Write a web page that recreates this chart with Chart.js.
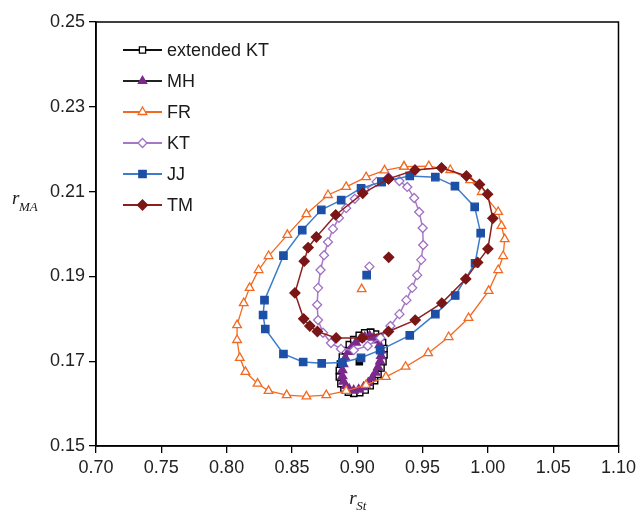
<!DOCTYPE html>
<html>
<head>
<meta charset="utf-8">
<script src="https://cdn.jsdelivr.net/npm/chart.js@4.4.1/dist/chart.umd.min.js"></script>
<style>
  html, body { margin: 0; padding: 0; background: #fff; }
  #wrap { width: 640px; height: 513px; position: relative; }
</style>
</head>
<body>
<div id="wrap"><canvas id="c" width="640" height="513"></canvas></div>
<script>
// ---- Data ----
const seriesNames = ["extended KT", "MH", "FR", "KT", "JJ", "TM"];

const xTicks = [0.70, 0.75, 0.80, 0.85, 0.90, 0.95, 1.00, 1.05, 1.10];
const yTicks = [0.15, 0.17, 0.19, 0.21, 0.23, 0.25];

// extended KT confidence ellipse
const extKtX = [0.9102, 0.9140, 0.9171, 0.9194, 0.9205, 0.9205, 0.9197, 0.9182, 0.9159, 0.9133, 0.9099, 0.9061, 0.9019,
                0.8973, 0.8932, 0.8898, 0.8875, 0.8863, 0.8863, 0.8871, 0.8886, 0.8909, 0.8939, 0.8973, 0.9015, 0.9057];
const extKtY = [0.1768, 0.1764, 0.1756, 0.1744, 0.1730, 0.1715, 0.1699, 0.1684, 0.1669, 0.1654, 0.1642, 0.1632, 0.1626,
                0.1624, 0.1627, 0.1636, 0.1647, 0.1663, 0.1678, 0.1693, 0.1710, 0.1725, 0.1739, 0.1751, 0.1761, 0.1767];
const extKtCenter = [0.9016, 0.1699];

// MH
const mhX = [0.9095, 0.9125, 0.9152, 0.9171, 0.9182, 0.9182, 0.9175, 0.9159, 0.9140, 0.9114, 0.9084, 0.9049, 0.9011,
             0.8973, 0.8939, 0.8913, 0.8894, 0.8886, 0.8886, 0.8894, 0.8909, 0.8932, 0.8958, 0.8989, 0.9023, 0.9057];
const mhY = [0.1759, 0.1756, 0.1749, 0.1738, 0.1726, 0.1713, 0.1700, 0.1686, 0.1673, 0.1660, 0.1649, 0.1639, 0.1633,
             0.1631, 0.1634, 0.1642, 0.1652, 0.1665, 0.1679, 0.1693, 0.1708, 0.1722, 0.1733, 0.1744, 0.1752, 0.1757];

// FR
const frX = [0.9358, 0.9548, 0.9712, 0.9864, 0.9953, 1.0079, 1.0104, 1.0129, 1.0117, 1.0079, 1.0006, 0.9852, 0.9700,
             0.9543, 0.9370, 0.9219, 0.9067, 0.8915, 0.8763, 0.8611, 0.8460, 0.8321, 0.8237, 0.8144, 0.8101, 0.8080,
             0.8080, 0.8131, 0.8176, 0.8245, 0.8321, 0.8465, 0.8611, 0.8776, 0.8915, 0.9068, 0.9209];
const frY = [0.2159, 0.2160, 0.2151, 0.2127, 0.2099, 0.2052, 0.2019, 0.1988, 0.1948, 0.1915, 0.1866, 0.1802, 0.1757,
             0.1719, 0.1687, 0.1663, 0.1644, 0.1630, 0.1620, 0.1617, 0.1620, 0.1630, 0.1647, 0.1675, 0.1708, 0.1750,
             0.1785, 0.1837, 0.1873, 0.1915, 0.1948, 0.1998, 0.2047, 0.2092, 0.2111, 0.2134, 0.2150];
const frCenter = [0.9034, 0.1870];

// KT
const ktX = [0.9239, 0.9323, 0.9383, 0.9436, 0.9474, 0.9501, 0.9505, 0.9490, 0.9459, 0.9421, 0.9376, 0.9323, 0.9254,
             0.9178, 0.9080, 0.8973, 0.8875, 0.8799, 0.8738, 0.8700, 0.8693, 0.8700, 0.8719, 0.8746, 0.8776, 0.8814,
             0.8860, 0.8915, 0.8981, 0.9057, 0.9148];
const ktY = [0.2133, 0.2125, 0.2111, 0.2085, 0.2052, 0.2014, 0.1974, 0.1939, 0.1903, 0.1873, 0.1844, 0.1811, 0.1783,
             0.1755, 0.1736, 0.1726, 0.1729, 0.1743, 0.1767, 0.1797, 0.1833, 0.1873, 0.1915, 0.1950, 0.1981, 0.2012,
             0.2038, 0.2061, 0.2083, 0.2104, 0.2123];
const ktCenter = [0.9093, 0.1923];

// JJ
const jjX = [0.9186, 0.9402, 0.9598, 0.9748, 0.9899, 0.9945, 0.9902, 0.9750, 0.9598, 0.9402, 0.9175, 0.9029, 0.8886,
             0.8728, 0.8586, 0.8435, 0.8296, 0.8279, 0.8290, 0.8435, 0.8579, 0.8725, 0.8877, 0.9029];
const jjY = [0.2123, 0.2137, 0.2134, 0.2113, 0.2064, 0.2002, 0.1931, 0.1855, 0.1811, 0.1761, 0.1726, 0.1708, 0.1697,
             0.1695, 0.1698, 0.1717, 0.1776, 0.1809, 0.1844, 0.1949, 0.2009, 0.2057, 0.2080, 0.2108];
const jjCenter = [0.9072, 0.1903];

// TM
const tmX = [0.9239, 0.9442, 0.9645, 0.9836, 0.9936, 0.9998, 1.0038, 1.0000, 0.9922, 0.9831, 0.9647, 0.9444, 0.9239,
             0.9038, 0.8839, 0.8695, 0.8637, 0.8590, 0.8523, 0.8594, 0.8624, 0.8687, 0.8835, 0.9042];
const tmY = [0.2130, 0.2151, 0.2156, 0.2137, 0.2117, 0.2094, 0.2037, 0.1965, 0.1933, 0.1894, 0.1837, 0.1797, 0.1770,
             0.1755, 0.1755, 0.1770, 0.1783, 0.1800, 0.1861, 0.1936, 0.1968, 0.1993, 0.2045, 0.2096];
const tmCenter = [0.9241, 0.1945];

// ---- helpers ----
function loop(xs, ys) {
  const pts = xs.map((x, i) => ({ x: x, y: ys[i] }));
  pts.push({ x: xs[0], y: ys[0] });
  return pts;
}

const styles = [
  { name: seriesNames[0], line: '#111111', border: '#000000', fill: '#ffffff', shape: 'rect', r: 4.4, lw: 1.3, pbw: 1.4, order: 6 },
  { name: seriesNames[1], line: '#4a2456', border: '#7B2A8C', fill: '#7B2A8C', shape: 'triangle', r: 4.8, lw: 2.4, pbw: 1.6, order: 5 },
  { name: seriesNames[2], line: '#F26A22', border: '#F26A22', fill: '#ffffff', shape: 'triangle', r: 5, lw: 1.3, pbw: 1.3, order: 4 },
  { name: seriesNames[3], line: '#A878C8', border: '#A070C4', fill: '#ffffff', shape: 'rectRot', r: 4.5, lw: 1.5, pbw: 1.3, order: 3 },
  { name: seriesNames[4], line: '#3D7CCB', border: '#1C4FA6', fill: '#1C4FA6', shape: 'rect', r: 5.2, lw: 1.5, pbw: 1.3, order: 2 },
  { name: seriesNames[5], line: '#8E1F1F', border: '#7A1616', fill: '#7A1616', shape: 'rectRot', r: 5, lw: 1.5, pbw: 1.3, order: 1 }
];

const loops = [loop(extKtX, extKtY), loop(mhX, mhY), loop(frX, frY), loop(ktX, ktY), loop(jjX, jjY), loop(tmX, tmY)];
const centers = [extKtCenter, null, frCenter, ktCenter, jjCenter, tmCenter];

const datasets = [];
styles.forEach((s, i) => {
  datasets.push({
    label: s.name,
    data: loops[i],
    showLine: true,
    borderColor: s.line,
    borderWidth: s.lw,
    pointStyle: s.shape,
    pointRadius: s.r,
    pointBorderColor: s.border,
    pointBackgroundColor: s.fill,
    pointBorderWidth: s.pbw,
    tension: 0,
    order: s.order
  });
});
styles.forEach((s, i) => {
  if (!centers[i]) return;
  datasets.push({
    label: s.name + ' centre',
    data: [{ x: centers[i][0], y: centers[i][1] }],
    showLine: false,
    pointStyle: s.shape,
    pointRadius: s.r,
    pointBorderColor: s.border,
    pointBackgroundColor: i === 0 ? '#000000' : s.fill,
    pointBorderWidth: 1.3,
    order: s.order
  });
});

function drawMarker(ctx, shape, r, x, y, fill, stroke) {
  ctx.save();
  ctx.beginPath();
  if (shape === 'rect') {
    const s = Math.SQRT1_2 * r;
    ctx.rect(x - s, y - s, 2 * s, 2 * s);
  } else if (shape === 'rectRot') {
    ctx.moveTo(x, y - r); ctx.lineTo(x + r, y); ctx.lineTo(x, y + r); ctx.lineTo(x - r, y); ctx.closePath();
  } else if (shape === 'triangle') {
    ctx.moveTo(x, y - r);
    ctx.lineTo(x + r * Math.sin(Math.PI * 2 / 3), y - r * Math.cos(Math.PI * 2 / 3));
    ctx.lineTo(x - r * Math.sin(Math.PI * 2 / 3), y - r * Math.cos(Math.PI * 2 / 3));
    ctx.closePath();
  }
  ctx.fillStyle = fill; ctx.fill();
  ctx.lineWidth = 1.3; ctx.strokeStyle = stroke; ctx.stroke();
  ctx.restore();
}

const decor = {
  id: 'decor',
  afterDraw(chart) {
    const ctx = chart.ctx;
    const a = chart.chartArea;
    ctx.save();
    // plot frame
    ctx.strokeStyle = '#000'; ctx.lineWidth = 1.5;
    ctx.strokeRect(a.left, a.top, a.right - a.left, a.bottom - a.top);
    // legend
    const lx0 = 123, lx1 = 162, tx = 167;
    const ly = [50, 81, 112, 143, 174, 205];
    styles.forEach((s, i) => {
      ctx.beginPath();
      ctx.strokeStyle = i === 1 ? '#222222' : s.line; ctx.lineWidth = 1.8;
      ctx.moveTo(lx0, ly[i]); ctx.lineTo(lx1, ly[i]); ctx.stroke();
      drawMarker(ctx, s.shape, s.r, (lx0 + lx1) / 2, ly[i], s.fill, s.border);
      ctx.fillStyle = '#1a1a1a';
      ctx.font = '18px "Liberation Sans", Arial, sans-serif';
      ctx.textBaseline = 'middle'; ctx.textAlign = 'left';
      ctx.fillText(s.name, tx, ly[i] + 1);
    });
    // axis titles with subscripts
    ctx.fillStyle = '#1a1a1a';
    ctx.textBaseline = 'alphabetic'; ctx.textAlign = 'left';
    // y title: r_MA
    ctx.font = 'italic 19px "Liberation Serif", "Times New Roman", serif';
    ctx.fillText('r', 12, 204);
    ctx.font = 'italic 13px "Liberation Serif", "Times New Roman", serif';
    ctx.fillText('MA', 19, 211);
    // x title: r_St
    const cx = (a.left + a.right) / 2;
    ctx.font = 'italic 19px "Liberation Serif", "Times New Roman", serif';
    ctx.fillText('r', cx - 8, 504);
    ctx.font = 'italic 13px "Liberation Serif", "Times New Roman", serif';
    ctx.fillText('St', cx - 1, 510);
    ctx.restore();
  }
};

const tickFont = { family: '"Liberation Sans", Arial, sans-serif', size: 18 };

new Chart(document.getElementById('c'), {
  type: 'scatter',
  data: { datasets: datasets },
  options: {
    responsive: false,
    animation: false,
    layout: { padding: { left: 0, right: 17, top: 22, bottom: 0 } },
    plugins: { legend: { display: false }, tooltip: { enabled: false }, title: { display: false } },
    elements: { line: { tension: 0 } },
    scales: {
      x: {
        type: 'linear',
        min: xTicks[0], max: xTicks[xTicks.length - 1],
        afterBuildTicks(scale) { scale.ticks = xTicks.map(v => ({ value: v })); },
        afterFit(scale) { scale.height = 67; },
        ticks: { font: tickFont, color: '#222', padding: 4, maxRotation: 0, autoSkip: false,
                 callback: v => Number(v).toFixed(2) },
        grid: { drawOnChartArea: false, drawTicks: true, tickLength: 7, color: '#000', lineWidth: 1.3 },
        border: { display: true, color: '#000', width: 1.5 },
        title: { display: false }
      },
      y: {
        type: 'linear',
        min: yTicks[0], max: yTicks[yTicks.length - 1],
        afterBuildTicks(scale) { scale.ticks = yTicks.map(v => ({ value: v })); },
        afterFit(scale) { scale.width = 96; },
        ticks: { font: tickFont, color: '#222', padding: 4, autoSkip: false,
                 callback: v => Number(v).toFixed(2) },
        grid: { drawOnChartArea: false, drawTicks: true, tickLength: 7, color: '#000', lineWidth: 1.3 },
        border: { display: true, color: '#000', width: 1.5 },
        title: { display: false }
      }
    }
  },
  plugins: [decor]
});
</script>
</body>
</html>
